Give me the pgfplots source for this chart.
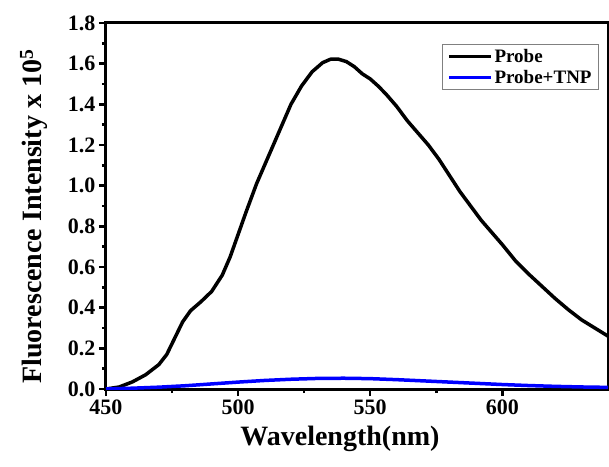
\documentclass[border=0pt]{standalone}
\usepackage{fontspec}
\setmainfont{Liberation Serif}
\usepackage{pgfplots}
\pgfplotsset{compat=1.18}
\begin{document}
\begin{tikzpicture}
\useasboundingbox (-106pt,-77pt) rectangle (503pt,389pt);
\begin{axis}[
  scale only axis,
  width=502pt, height=366pt,
  xmin=450, xmax=640, ymin=0, ymax=1.8,
  xtick={450,500,550,600}, ytick={0,0.2,...,1.8},
  minor x tick num=1, minor y tick num=1,
  tick pos=left, tick align=outside,
  major tick length=7pt, minor tick length=4pt,
  every tick/.style={black, line width=2.5pt},
  axis line style={line width=3pt},
  /pgf/number format/assume math mode=true,
  tick label style={font=\fontsize{22}{24}\selectfont\bfseries},
  yticklabel style={/pgf/number format/.cd, fixed, fixed zerofill, precision=1},
  xticklabel style={/pgf/number format/.cd, set thousands separator={}},
  xlabel={Wavelength(nm)},
  ylabel={Fluorescence Intensity x 10\textsuperscript{5}},
  label style={font=\fontsize{28}{30}\selectfont\bfseries},
  xlabel style={at={(axis description cs:0.466,0)}, anchor=north, yshift=-34pt},
  ylabel style={at={(axis description cs:-0.1275,0.471)}, anchor=base, rotate=0},
  legend style={at={(0.982,0.943)}, anchor=north east, draw=gray, line width=0.8pt,
    font=\fontsize{19}{21}\selectfont\bfseries, row sep=2pt, inner xsep=5pt, inner ysep=3pt},
  legend cell align=left,
  legend image code/.code={\draw[#1,line width=3.5pt] (0pt,0pt) -- (42pt,0pt);},
]
\addplot[black, line width=3.5pt, line join=round] coordinates {
(450,0.0) (455,0.01) (460,0.035) (465,0.07) (470,0.12) (473,0.17) (476,0.25)
(479,0.33) (482,0.385) (486,0.43) (490,0.48) (494,0.56) (497,0.65) (500,0.76)
(503,0.87) (507,1.01) (510,1.10) (513,1.19) (516,1.28) (520,1.40) (524,1.49)
(528,1.56) (532,1.605) (535,1.622) (538,1.622) (541,1.61) (544,1.585) (547,1.55)
(550,1.525) (553,1.49) (556,1.45) (560,1.39) (564,1.32) (568,1.26) (572,1.20)
(576,1.13) (580,1.05) (584,0.97) (588,0.90) (592,0.83) (596,0.77) (600,0.71)
(605,0.63) (610,0.565) (615,0.505) (620,0.445) (625,0.39) (630,0.34) (635,0.30) (640,0.26)
};
\addlegendentry{Probe}
\addplot[blue, line width=3.5pt, line join=round] coordinates {
(450,0.0) (460,0.004) (470,0.009) (480,0.016) (490,0.025) (500,0.034) (510,0.042)
(520,0.048) (530,0.052) (540,0.053) (550,0.051) (560,0.046) (570,0.040) (580,0.034)
(590,0.028) (600,0.022) (610,0.017) (620,0.013) (630,0.010) (640,0.008)
};
\addlegendentry{Probe+TNP}
\end{axis}
\end{tikzpicture}
\end{document}
